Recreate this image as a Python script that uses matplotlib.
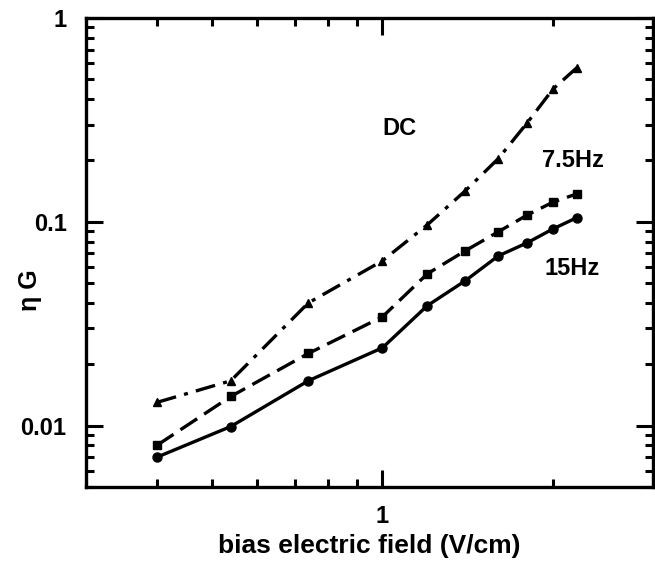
import matplotlib
matplotlib.use("Agg")
import matplotlib.pyplot as plt
from matplotlib.ticker import LogLocator, NullFormatter, FixedLocator, FixedFormatter

plt.rcParams['font.family'] = ['Liberation Sans', 'DejaVu Sans']
plt.rcParams['font.weight'] = 'bold'

field = [0.4, 0.54, 0.74, 1.0, 1.2, 1.4, 1.6, 1.8, 2.0, 2.2]
g_15hz = [0.0070, 0.0099, 0.0166, 0.0241, 0.0388, 0.0514, 0.068, 0.0789, 0.0924, 0.1047]
g_7p5hz = [0.0080, 0.0139, 0.0226, 0.0342, 0.0556, 0.0721, 0.0893, 0.108, 0.125, 0.137]
g_dc = [0.0130, 0.0166, 0.040, 0.0644, 0.0967, 0.142, 0.204, 0.306, 0.449, 0.569]

series_labels = ["DC", "7.5Hz", "15Hz"]
x_major = [1]
x_major_labels = ["1"]
y_major = [0.01, 0.1, 1]
y_major_labels = ["0.01", "0.1", "1"]

fig = plt.figure(figsize=(6.55, 5.69), dpi=100)
ax = fig.add_axes([86/655, 1-487/569, (653-86)/655, (487-18)/569])

lw = 2.4
ax.plot(field, g_15hz, color='black', lw=lw, ls='-', marker='o', ms=6.5)
ax.plot(field, g_7p5hz, color='black', lw=lw, ls=(0, (6, 2.5)), marker='s', ms=6)
ax.plot(field, g_dc, color='black', lw=lw, ls=(0, (6, 2.5, 1.2, 2.5)), marker='^', ms=6)

ax.set_xscale('log')
ax.set_yscale('log')
ax.set_xlim(0.3, 3.0)
ax.set_ylim(0.005, 1.0)

ax.xaxis.set_major_locator(FixedLocator(x_major))
ax.xaxis.set_major_formatter(FixedFormatter(x_major_labels))
ax.xaxis.set_minor_locator(LogLocator(base=10, subs=range(2, 10)))
ax.xaxis.set_minor_formatter(NullFormatter())
ax.yaxis.set_major_locator(FixedLocator(y_major))
ax.yaxis.set_major_formatter(FixedFormatter(y_major_labels))
ax.yaxis.set_minor_locator(LogLocator(base=10, subs=range(2, 10)))
ax.yaxis.set_minor_formatter(NullFormatter())

ax.tick_params(which='both', direction='in', top=True, right=True, width=2.2, labelsize=17)
ax.tick_params(which='major', length=12)
ax.tick_params(which='minor', length=6)
ax.tick_params(axis='x', which='major', pad=13)
ax.tick_params(axis='y', which='major', pad=14)
for s in ax.spines.values():
    s.set_linewidth(2.4)

ax.set_xlabel("bias electric field (V/cm)", fontsize=19, fontweight='bold', labelpad=4)
ax.set_ylabel("η G", fontsize=18, fontweight='bold')
ax.yaxis.set_label_coords(-44/567, (487-290)/469)

ax.text(1.0, 0.286, series_labels[0], fontsize=17, fontweight='bold', ha='left', va='center')
ax.text(1.91, 0.199, series_labels[1], fontsize=17, fontweight='bold', ha='left', va='center')
ax.text(1.93, 0.0589, series_labels[2], fontsize=17, fontweight='bold', ha='left', va='center')

fig.savefig("out.png", dpi=100)
